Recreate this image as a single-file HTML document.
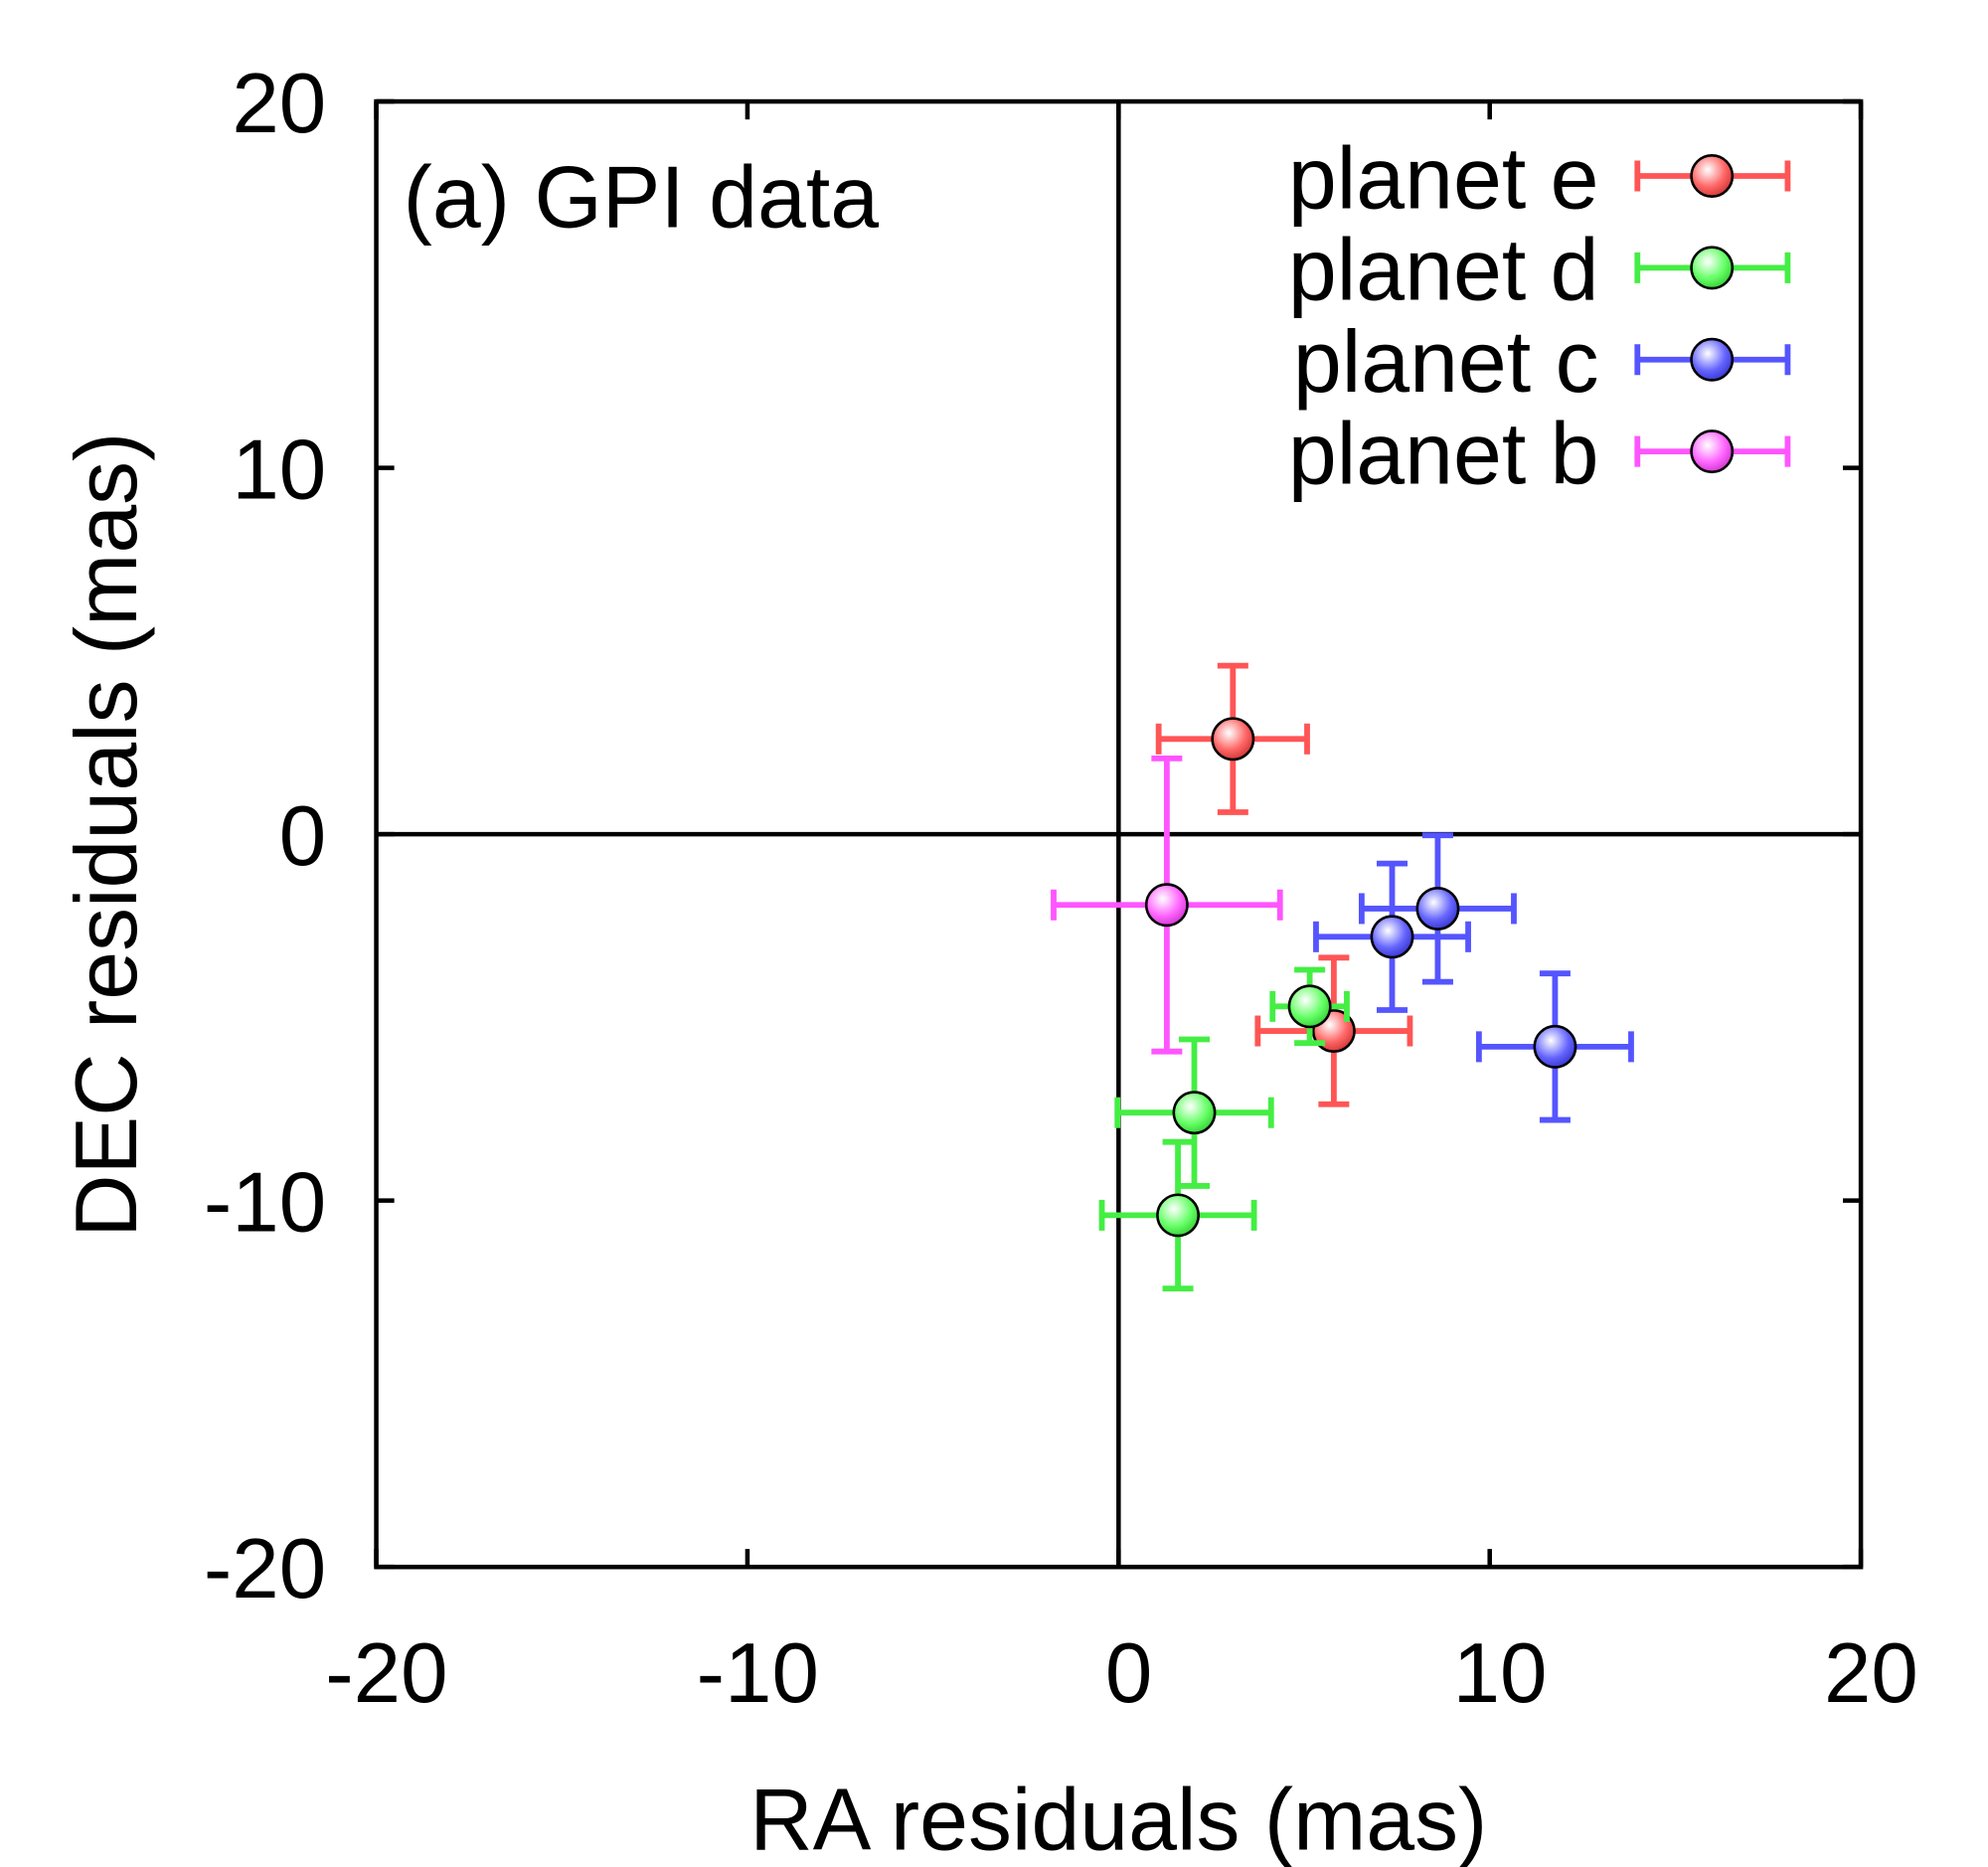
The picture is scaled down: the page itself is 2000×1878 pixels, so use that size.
<!DOCTYPE html>
<html><head><meta charset="utf-8"><style>html,body{margin:0;padding:0;background:#fff}svg{display:block}text{font-family:"Liberation Sans",sans-serif;fill:#000}</style></head>
<body>
<svg width="2000" height="1878" viewBox="0 0 1548 1453.6" preserveAspectRatio="none" xmlns="http://www.w3.org/2000/svg">
<defs>
<radialGradient id="gr" cx="0.4" cy="0.35" r="0.7"><stop offset="0" stop-color="#fff"/><stop offset="0.6" stop-color="#f66"/><stop offset="1" stop-color="#c33"/></radialGradient>
<radialGradient id="gg" cx="0.4" cy="0.35" r="0.7"><stop offset="0" stop-color="#fff"/><stop offset="0.6" stop-color="#6f6"/><stop offset="1" stop-color="#3c3"/></radialGradient>
<radialGradient id="gb" cx="0.4" cy="0.35" r="0.7"><stop offset="0" stop-color="#fff"/><stop offset="0.6" stop-color="#66f"/><stop offset="1" stop-color="#33c"/></radialGradient>
<radialGradient id="gm" cx="0.4" cy="0.35" r="0.7"><stop offset="0" stop-color="#fff"/><stop offset="0.6" stop-color="#f6f"/><stop offset="1" stop-color="#c3c"/></radialGradient>
</defs>
<g id="axes"></g>
<g id="marks"></g>
<text x="314" y="177" font-size="68">(a) GPI data</text>
<text x="871" y="1440" font-size="68" text-anchor="middle">RA residuals (mas)</text>
<text transform="translate(106,650) rotate(-90)" font-size="68" text-anchor="middle">DEC residuals (mas)</text>
</svg>
<script>
const xTicks=[-20,-10,0,10,20];
const yTicks=[-20,-10,0,10,20];
const seriesNames=["planet e","planet d","planet c","planet b"];
const seriesColors=["#f55","#4e4","#55f","#f5f"];
const seriesGrads=["url(#gr)","url(#gg)","url(#gb)","url(#gm)"];
const eX=[3.08,5.8], eY=[2.6,-5.37], eXerr=[2.0,2.05], eYerr=[2.0,2.0];
const dX=[5.15,2.04,1.6], dY=[-4.7,-7.6,-10.4], dXerr=[1.0,2.07,2.05], dYerr=[1.0,2.0,2.0];
const cX=[7.37,8.6,11.76], cY=[-2.8,-2.03,-5.8], cXerr=[2.05,2.05,2.05], cYerr=[2.0,2.0,2.0];
const bX=[1.3], bY=[-1.93], bXerr=[3.05], bYerr=[4.0];
const L=293,R=1449,T=79,B=1220;
const sx=v=>L+(v+20)/40*(R-L);
const sy=v=>B-(v+20)/40*(B-T);
const NS="http://www.w3.org/2000/svg";
function mk(tag,attrs,parent){const e=document.createElementNS(NS,tag);for(const k in attrs)e.setAttribute(k,attrs[k]);parent.appendChild(e);return e;}
const ax=document.getElementById('axes');
let e;
e=mk('rect',{x:L,y:T,width:R-L,height:B-T,fill:'none',stroke:'#000','stroke-width':3.5},ax);


e=mk('line',{x1:sx(0),x2:sx(0),y1:T,y2:B,stroke:'#000','stroke-width':3.5},ax);


e=mk('line',{x1:L,x2:R,y1:sy(0),y2:sy(0),stroke:'#000','stroke-width':3.5},ax);


xTicks.forEach(t=>{
 mk('line',{x1:sx(t),x2:sx(t),y1:B,y2:B-14,stroke:'#000','stroke-width':3.5},ax);
 mk('line',{x1:sx(t),x2:sx(t),y1:T,y2:T+14,stroke:'#000','stroke-width':3.5},ax);
 e=mk('text',{x:sx(t)+8,y:1325,'font-size':66,'text-anchor':'middle'},ax);e.textContent=t;
 
 
});
yTicks.forEach(t=>{
 mk('line',{x1:L,x2:L+14,y1:sy(t),y2:sy(t),stroke:'#000','stroke-width':3.5},ax);
 mk('line',{x1:R,x2:R-14,y1:sy(t),y2:sy(t),stroke:'#000','stroke-width':3.5},ax);
 e=mk('text',{x:254,y:sy(t)+24,'font-size':66,'text-anchor':'end'},ax);e.textContent=t;
 
 
});
const mg=document.getElementById('marks');
function errbar(g,cx,cy,x0,x1,y0,y1,col){
 const a={stroke:col,'stroke-width':4.5,fill:'none'};
 mk('line',Object.assign({x1:x0,x2:x1,y1:cy,y2:cy},a),g);
 mk('line',Object.assign({x1:x0,x2:x0,y1:cy-12,y2:cy+12},a),g);
 mk('line',Object.assign({x1:x1,x2:x1,y1:cy-12,y2:cy+12},a),g);
 if(y0!==null){
 mk('line',Object.assign({x1:cx,x2:cx,y1:y0,y2:y1},a),g);
 mk('line',Object.assign({x1:cx-12,x2:cx+12,y1:y0,y2:y0},a),g);
 mk('line',Object.assign({x1:cx-12,x2:cx+12,y1:y1,y2:y1},a),g);}
}
const all=[[eX,eY,eXerr,eYerr],[dX,dY,dXerr,dYerr],[cX,cY,cXerr,cYerr],[bX,bY,bXerr,bYerr]];
all.forEach((s,si)=>{
 const [X,Y,XE,YE]=s;
 X.forEach((x,i)=>{
  const g=mk('g',{},mg);
  
  
  const cx=sx(x),cy=sy(Y[i]);
  errbar(g,cx,cy,sx(x-XE[i]),sx(x+XE[i]),sy(Y[i]+YE[i]),sy(Y[i]-YE[i]),seriesColors[si]);
  mk('circle',{cx:cx,cy:cy,r:16,fill:seriesGrads[si],stroke:'#000','stroke-width':2},g);
 });
 const ly=137+si*71.5;
 const lg=mk('g',{},mg);
 
 
 const t=mk('text',{x:1245,y:ly+25,'font-size':68,'text-anchor':'end'},lg);t.textContent=seriesNames[si];
 errbar(lg,1333,ly,1275,1392,null,null,seriesColors[si]);
 mk('circle',{cx:1333,cy:ly,r:16,fill:seriesGrads[si],stroke:'#000','stroke-width':2},lg);
});
</script>
</body></html>
